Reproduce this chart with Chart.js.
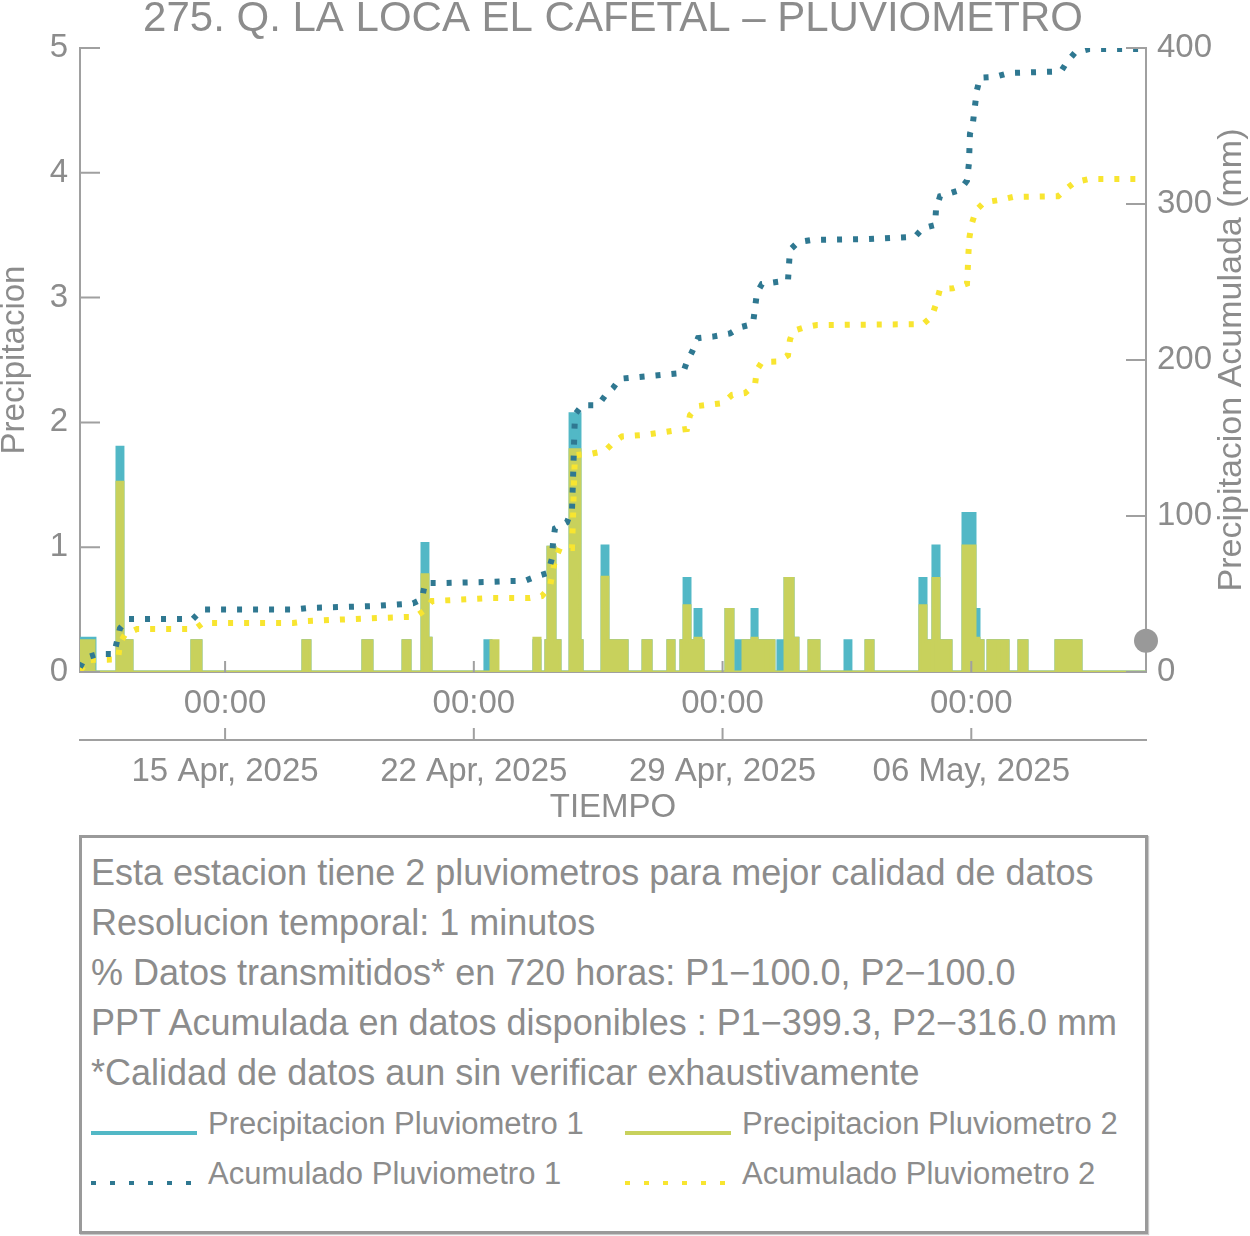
<!DOCTYPE html>
<html>
<head>
<meta charset="utf-8">
<script src="https://cdn.jsdelivr.net/npm/chart.js@4.4.1/dist/chart.umd.min.js"></script>
<style>
    body { margin: 0; background: #fff; font-family: "Liberation Sans", Arial, sans-serif; color: #8c8c8c; }
    #wrap { position: relative; width: 1250px; height: 1236px; }
    #chart { position: absolute; left: 0; top: 0; }
    #infoBox { position: absolute; left: 79px; top: 835px; width: 1069px; height: 399px; box-sizing: border-box;
        border: 3px solid #9a9a9a; box-shadow: 1px 1px 1px #c8c8c8; }
    .info { position: absolute; left: 91px; font-size: 36px; line-height: 50px; white-space: nowrap; }
    .legText { position: absolute; font-size: 31px; line-height: 50px; white-space: nowrap; }
    .sample { position: absolute; width: 106px; height: 4px; }
</style>
</head>
<body>
<div id="wrap">
    <canvas id="chart" width="1250" height="830"></canvas>
    <div id="infoBox"></div>
    <div id="infoLines"></div>
    <div id="legend"></div>
</div>
<script>
// hours counted from the start of the 720 h window (10 Apr 2025 ~22:00)
const tickHours = [98, 266, 434, 602];
const hourLabels = ["00:00", "00:00", "00:00", "00:00"];
const dateLabels = ["15 Apr, 2025", "22 Apr, 2025", "29 Apr, 2025", "06 May, 2025"];

// precipitation, step values: each value holds until the next hour in the list
const p1StepHours = [0, 10.1, 25.0, 29.0, 35.1, 75.6, 81.7, 150.6, 155.3, 191.1, 197.2, 218.2, 222.9, 231.0, 235.0, 237.1,
    273.5, 277.6, 306.6, 310.7, 314.7, 316.1, 320.8, 324.2, 331.0, 337.7, 339.1, 352.6, 356.6, 369.5, 380.3, 385.7,
    397.1, 401.2, 405.9, 408.0, 412.0, 415.4, 419.4, 420.8, 436.3, 441.0, 443.1, 445.8, 447.8, 453.9, 457.3, 463.3,
    464.7, 468.7, 471.4, 475.5, 476.2, 481.6, 484.9, 492.4, 499.1, 516.7, 520.7, 530.9, 535.6, 567.3, 571.4, 575.4,
    576.1, 580.2, 588.3, 596.4, 604.5, 607.2, 609.9, 613.3, 620.0, 620.7, 626.8, 634.2, 639.6, 659.2, 676.1, 720];
const p1StepValues = [0.27, 0, 1.80, 0.25, 0, 0.25, 0, 0.25, 0, 0.25, 0, 0.25, 0, 1.03, 0.27, 0,
    0.25, 0, 0.25, 0, 0.25, 1.0, 0.25, 0, 2.07, 0.25, 0, 1.01, 0.25, 0, 0.25, 0,
    0.25, 0, 0.25, 0.75, 0.25, 0.5, 0.25, 0, 0.5, 0, 0.25, 0, 0.25, 0.5, 0.25, 0,
    0.25, 0, 0.25, 0, 0.75, 0.27, 0, 0.25, 0, 0.25, 0, 0.25, 0, 0.75, 0.25, 0,
    1.01, 0.25, 0, 1.27, 0.5, 0.25, 0, 0.25, 0, 0.25, 0, 0.25, 0, 0.25, 0, 0];

const p2StepHours = [0, 9.5, 25.0, 29.0, 35.1, 75.6, 81.7, 150.6, 155.3, 191.1, 197.2, 218.2, 222.9, 231.0, 235.0, 237.1,
    277.6, 282.3, 306.6, 310.7, 314.7, 316.1, 320.8, 324.2, 331.0, 337.7, 339.1, 352.6, 356.6, 369.5, 380.3, 385.7,
    397.1, 401.2, 405.9, 408.0, 412.0, 415.4, 419.4, 420.8, 436.3, 441.0, 447.8, 453.9, 457.3, 463.3, 464.7, 468.7,
    476.2, 481.6, 484.9, 492.4, 499.1, 530.9, 535.6, 567.3, 571.4, 575.4, 576.1, 580.2, 588.3, 596.4, 604.5, 607.2,
    609.9, 613.3, 620.0, 620.7, 626.8, 634.2, 639.6, 659.2, 676.1, 720];
const p2StepValues = [0.25, 0, 1.52, 0.25, 0, 0.25, 0, 0.25, 0, 0.25, 0, 0.25, 0, 0.78, 0.27, 0,
    0.25, 0, 0.27, 0, 0.25, 1.0, 0.25, 0, 1.78, 0.25, 0, 0.76, 0.25, 0, 0.25, 0,
    0.25, 0, 0.25, 0.53, 0.25, 0.27, 0.25, 0, 0.5, 0, 0.25, 0.27, 0.25, 0, 0.25, 0,
    0.75, 0.27, 0, 0.25, 0, 0.25, 0, 0.53, 0.25, 0, 0.75, 0.25, 0, 1.01, 0.27, 0.25,
    0, 0.25, 0, 0.25, 0, 0.25, 0, 0.25, 0, 0];

// accumulated precipitation (mm)
const acc1Hours = [0, 3.4, 12.2, 23.0, 27.0, 32.4, 76.3, 82.4, 143.2, 153.3, 199.2, 219.5, 224.9, 231.0, 233.0, 243.1,
    274.9, 290.4, 300.6, 308.7, 316.1, 318.8, 319.5, 320.8, 328.9, 332.3, 333.0, 333.6, 334.3, 339.1, 349.9, 354.6,
    360.0, 364.7, 376.2, 407.3, 410.0, 413.3, 417.4, 427.5, 439.0, 445.8, 454.5, 455.9, 457.2, 460.6, 478.2, 478.9,
    479.5, 485.0, 494.4, 532.2, 564.0, 569.4, 577.5, 578.2, 580.9, 594.4, 599.1, 600.4, 601.1, 603.1, 604.5, 605.8,
    607.9, 618.0, 627.5, 662.6, 666.6, 672.0, 681.5, 720];
const acc1Values = [3, 9, 11.5, 11.5, 28, 34, 34, 40, 40, 41, 42.3, 43.6, 44, 46.8, 57, 57,
    57.7, 58.3, 58.5, 61.5, 63.5, 73, 83, 92, 96, 104, 124, 144, 165, 171, 171, 177,
    182, 188, 189, 191.7, 199, 205, 214, 215, 217, 221, 223, 233, 243, 248.7, 251, 261.5,
    270.5, 275.6, 277, 277.5, 279, 284.6, 286.5, 296.8, 305, 309, 315, 326, 345, 352, 363, 373,
    381, 381.5, 384, 385, 391, 397, 399.3, 399.3];

const acc2Hours = [0, 1.4, 5.4, 25.7, 27.0, 30.4, 38.5, 77.7, 83.1, 143.9, 153.3, 200.6, 220.9, 226.3, 233.0, 237.7,
    278.9, 303.9, 312.0, 317.4, 320.8, 324.2, 332.3, 333.0, 333.6, 334.3, 345.8, 354.6, 360.0, 366.1, 381.6, 399.8,
    410.0, 412.0, 417.4, 434.3, 440.4, 449.1, 455.9, 457.2, 460.6, 471.4, 478.2, 479.5, 481.6, 489.7, 497.8, 569.4,
    575.4, 578.2, 580.9, 589.6, 599.1, 599.7, 600.1, 600.8, 602.5, 605.2, 610.6, 620.7, 630.2, 660.6, 666.6, 672.0,
    681.5, 720];
const acc2Values = [1, 2.5, 7.7, 8, 18.6, 24, 27.5, 27.5, 31.4, 31.4, 32.7, 34.6, 35.3, 35.3, 39.7, 45.5,
    47.4, 47.4, 48.7, 54.5, 71.8, 79.5, 79.5, 99, 120, 139, 140, 141.7, 146.8, 151, 152, 154.5,
    155.8, 164.7, 170.5, 172.4, 177.6, 178.8, 184, 193.6, 198.7, 199, 203, 212.8, 218.6, 221, 222.4, 223,
    228, 236, 245.5, 246, 249, 260, 269, 279, 287.8, 296, 301, 302.5, 304.5, 305, 310, 314,
    316, 316];

// last reading marker
const lastHour = [720];
const lastValue = [0.25];

const infoLines = [
    "Esta estacion tiene 2 pluviometros para mejor calidad de datos",
    "Resolucion temporal: 1 minutos",
    "% Datos transmitidos* en 720 horas: P1\u2212100.0, P2\u2212100.0",
    "PPT Acumulada en datos disponibles : P1\u2212399.3, P2\u2212316.0 mm",
    "*Calidad de datos aun sin verificar exhaustivamente"
];

const grey = "#8c8c8c";
const axisGrey = "#a0a0a0";
const fontFam = '"Liberation Sans", Arial, sans-serif';

function toPoints(xs, ys) {
    return xs.map((x, i) => ({ x: x, y: ys[i] }));
}

// tick marks drawn inward, like the original plot
const innerTicks = {
    id: "innerTicks",
    afterDraw(chart) {
        const ctx = chart.ctx;
        const s = chart.scales;
        ctx.save();
        ctx.strokeStyle = axisGrey;
        ctx.lineWidth = 2;
        ctx.beginPath();
        s.y.ticks.forEach(t => {
            let py = s.y.getPixelForValue(t.value);
            ctx.moveTo(s.y.right, py);
            ctx.lineTo(s.y.right + 20, py);
        });
        s.y2.ticks.forEach(t => {
            let py = s.y2.getPixelForValue(t.value);
            ctx.moveTo(s.y2.left, py);
            ctx.lineTo(s.y2.left - 20, py);
        });
        s.x.ticks.forEach(t => {
            let px = s.x.getPixelForValue(t.value);
            ctx.moveTo(px, s.x.top);
            ctx.lineTo(px, s.x.top - 11);
        });
        s.x2.ticks.forEach(t => {
            let px = s.x2.getPixelForValue(t.value);
            ctx.moveTo(px, s.x2.top);
            ctx.lineTo(px, s.x2.top - 12);
        });
        ctx.stroke();

        // right axis title reads bottom to top
        ctx.fillStyle = grey;
        ctx.font = "34px " + fontFam;
        ctx.textAlign = "center";
        ctx.textBaseline = "middle";
        ctx.translate(1232, (chart.chartArea.top + chart.chartArea.bottom) / 2);
        ctx.rotate(-Math.PI / 2);
        ctx.fillText("Precipitacion Acumulada (mm)", 0, 0);
        ctx.restore();
    }
};

const ctx = document.getElementById("chart").getContext("2d");
new Chart(ctx, {
    type: "line",
    data: {
        datasets: [
            {
                label: "last",
                data: toPoints(lastHour, lastValue),
                yAxisID: "y",
                showLine: false,
                pointRadius: 12,
                pointBackgroundColor: "#999999",
                pointBorderWidth: 0,
                clip: false,
                order: 0
            },
            {
                label: "Acumulado Pluviometro 1",
                data: toPoints(acc1Hours, acc1Values),
                yAxisID: "y2",
                borderColor: "#2f7891",
                borderWidth: 6,
                borderDash: [5, 11],
                pointRadius: 0,
                order: 1
            },
            {
                label: "Acumulado Pluviometro 2",
                data: toPoints(acc2Hours, acc2Values),
                yAxisID: "y2",
                borderColor: "#f8e530",
                borderWidth: 6,
                borderDash: [5, 11],
                pointRadius: 0,
                order: 2
            },
            {
                label: "Precipitacion Pluviometro 2",
                data: toPoints(p2StepHours, p2StepValues),
                yAxisID: "y",
                stepped: "before",
                borderColor: "#c8d15c",
                backgroundColor: "#c8d15c",
                fill: "origin",
                borderWidth: 3,
                pointRadius: 0,
                order: 3
            },
            {
                label: "Precipitacion Pluviometro 1",
                data: toPoints(p1StepHours, p1StepValues),
                yAxisID: "y",
                stepped: "before",
                borderColor: "#52b8c6",
                backgroundColor: "#52b8c6",
                fill: "origin",
                borderWidth: 3,
                pointRadius: 0,
                order: 4
            }
        ]
    },
    options: {
        responsive: false,
        animation: false,
        devicePixelRatio: 1,
        layout: { padding: { top: 0, bottom: 8, left: 0, right: 0 } },
        plugins: {
            legend: { display: false },
            tooltip: { enabled: false },
            title: {
                display: true,
                fullSize: false,
                text: "275. Q. LA LOCA EL CAFETAL \u2013 PLUVIOMETRO",
                color: grey,
                font: { family: fontFam, size: 42, weight: "normal", lineHeight: 1 },
                padding: { top: -2, bottom: 8 }
            }
        },
        scales: {
            x: {
                type: "linear",
                position: "bottom",
                min: 0,
                max: 720,
                afterFit: s => { s.height = 68; },
                afterBuildTicks: s => { s.ticks = tickHours.map(v => ({ value: v })); },
                grid: { display: true, drawOnChartArea: false, drawTicks: false },
                border: { display: true, color: axisGrey, width: 2 },
                ticks: {
                    autoSkip: false,
                    maxRotation: 0,
                    padding: 15,
                    color: grey,
                    font: { family: fontFam, size: 33, lineHeight: 1 },
                    callback: (v, i) => hourLabels[i]
                }
            },
            x2: {
                type: "linear",
                position: "bottom",
                min: 0,
                max: 720,
                afterFit: s => { s.height = 82; },
                afterBuildTicks: s => { s.ticks = tickHours.map(v => ({ value: v })); },
                grid: { display: true, drawOnChartArea: false, drawTicks: false },
                border: { display: true, color: axisGrey, width: 2 },
                ticks: {
                    autoSkip: false,
                    maxRotation: 0,
                    padding: 15,
                    color: grey,
                    font: { family: fontFam, size: 33, lineHeight: 1 },
                    callback: (v, i) => dateLabels[i]
                },
                title: {
                    display: true,
                    text: "TIEMPO",
                    color: grey,
                    font: { family: fontFam, size: 33, lineHeight: 1 },
                    padding: { top: 0, bottom: -2 }
                }
            },
            y: {
                position: "left",
                min: 0,
                max: 5,
                afterFit: s => { s.width = 80; },
                grid: { display: true, drawOnChartArea: false, drawTicks: false },
                border: { display: true, color: axisGrey, width: 2 },
                ticks: {
                    stepSize: 1,
                    padding: 12,
                    color: grey,
                    font: { family: fontFam, size: 33, lineHeight: 1 }
                },
                title: {
                    display: true,
                    text: "Precipitacion",
                    color: grey,
                    font: { family: fontFam, size: 33, lineHeight: 1 },
                    padding: { top: -2, bottom: 0 }
                }
            },
            y2: {
                position: "right",
                min: 0,
                max: 400,
                afterFit: s => { s.width = 104; },
                grid: { display: true, drawOnChartArea: false, drawTicks: false },
                border: { display: true, color: axisGrey, width: 2 },
                ticks: {
                    stepSize: 100,
                    padding: 11,
                    color: grey,
                    font: { family: fontFam, size: 33, lineHeight: 1 }
                }
            }
        }
    },
    plugins: [innerTicks]
});

// text box under the chart
let infoHtml = "";
infoLines.forEach((line, i) => {
    infoHtml += `<div class="info" style="top:${848 + i * 50}px">${line}</div>`;
});
document.getElementById("infoLines").innerHTML = infoHtml;

const legendItems = [
    { label: "Precipitacion Pluviometro 1", color: "#52b8c6", dotted: false, x: 91, y: 1099 },
    { label: "Precipitacion Pluviometro 2", color: "#c8d15c", dotted: false, x: 625, y: 1099 },
    { label: "Acumulado Pluviometro 1", color: "#2f7891", dotted: true, x: 91, y: 1149 },
    { label: "Acumulado Pluviometro 2", color: "#f8e530", dotted: true, x: 625, y: 1149 }
];
let legHtml = "";
legendItems.forEach(item => {
    let bg = item.dotted
        ? `repeating-linear-gradient(to right, ${item.color} 0 5px, transparent 5px 19px)`
        : item.color;
    legHtml += `<div class="sample" style="left:${item.x}px;top:${item.y + 32}px;background:${bg}"></div>`;
    legHtml += `<div class="legText" style="left:${item.x + 117}px;top:${item.y}px">${item.label}</div>`;
});
document.getElementById("legend").innerHTML = legHtml;
</script>
</body>
</html>
